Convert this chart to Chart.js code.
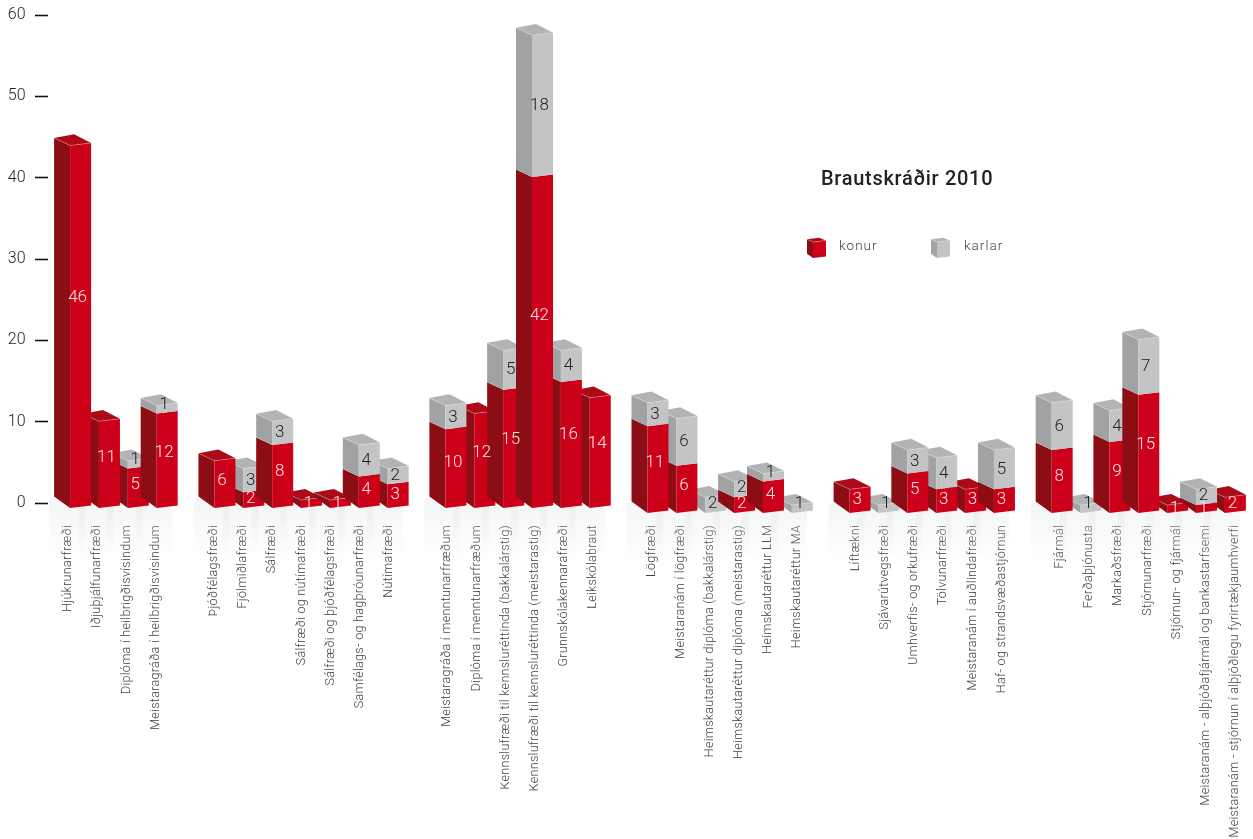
<!DOCTYPE html>
<html>
<head>
<meta charset="utf-8">
<title>Brautskráðir 2010</title>
<style>
  html, body { margin: 0; background: #fff; }
  canvas { display: block; }
</style>
<script src="https://cdn.jsdelivr.net/npm/chart.js@4"></script>
</head>
<body>
<canvas id="chart" width="1253" height="839"></canvas>
<script>
// empty strings are the gaps between the faculty groups
const categories = [
  `Hjúkrunarfræði`, `Iðjuþjálfunarfræði`, `Diplóma í heilbrigðisvísindum`, `Meistaragráða í heilbrigðisvísindum`, ``,
  `Þjóðfélagsfræði`, `Fjölmiðlafræði`, `Sálfræði`, `Sálfræði og nútímafræði`, `Sálfræði og þjóðfélagsfræði`, `Samfélags- og hagþróunarfræði`, `Nútímafræði`, ``,
  `Meistaragráða í menntunarfræðum`, `Diplóma í menntunarfræðum`, `Kennslufræði til kennsluréttinda (bakkalárstig)`, `Kennslufræði til kennsluréttinda (meistarastig)`, `Grunnskólakennarafræði`, `Leikskólabraut`, ``,
  `Lögfræði`, `Meistaranám í lögfræði`, `Heimskautaréttur diplóma (bakkalárstig)`, `Heimskautaréttur diplóma (meistarastig)`, `Heimskautaréttur LLM`, `Heimskautaréttur MA`, ``,
  `Líftækni`, `Sjávarútvegsfræði`, `Umhverfis- og orkufræði`, `Tölvunarfræði`, `Meistaranám í auðlindafræði`, `Haf- og strandsvæðastjórnun`, ``,
  `Fjármál`, `Ferðaþjónusta`, `Markaðsfræði`, `Stjórnunarfræði`, `Stjórnun- og fjármál`, `Meistaranám - alþjóðafjármál og bankastarfsemi`, `Meistaranám - stjórnun í alþjóðlegu fyrirtækjaumhverfi`
];
const konur = [
  46, 11, 5, 12, null,
  6, 2, 8, 1, 1, 4, 3, null,
  10, 12, 15, 42, 16, 14, null,
  11, 6, 0, 2, 4, 0, null,
  3, 0, 5, 3, 3, 3, null,
  8, 0, 9, 15, 1, 1, 2
];
const karlar = [
  0, 0, 1, 1, null,
  0, 3, 3, 0, 0, 4, 2, null,
  3, 0, 5, 18, 4, 0, null,
  3, 6, 2, 2, 1, 1, null,
  0, 1, 3, 4, 0, 5, null,
  6, 1, 4, 7, 0, 2, 0
];
const yTicks = [0, 10, 20, 30, 40, 50, 60];
const chartTitle = `Brautskráðir 2010`;
const seriesNames = [`konur`, `karlar`];

const RED = {front: `#cc0019`, side: `#8c0d14`, top: `#ad0a18`, text: `#f6e6e6`};
const GREY = {front: `#c3c4c6`, side: `#a1a2a4`, top: `#b2b3b5`, text: `#222222`};

const FRONT_W = 21;
const SIDE_W = 16;
const FONT = `Roboto, sans-serif`;

const polygon = (ctx, points, fill) => {
  ctx.beginPath();
  points.forEach(([x, y], i) => (i ? ctx.lineTo(x, y) : ctx.moveTo(x, y)));
  ctx.closePath();
  ctx.fillStyle = fill;
  ctx.fill();
};

// one block of a bar: side and front; yTop / yBottom are the front-left corners
const drawBlock = (ctx, fx, yTop, yBottom, color, isFloor, w = FRONT_W, sw = SIDE_W) => {
  const slope = w * 0.12;
  const topDy = sw * 0.47;
  const bottomDy = isFloor ? sw * 0.72 : sw * 0.48;
  polygon(ctx, [[fx - sw, yTop - topDy], [fx, yTop], [fx, yBottom], [fx - sw, yBottom - bottomDy]], color.side);
  polygon(ctx, [[fx, yTop], [fx + w, yTop - slope], [fx + w, yBottom - slope], [fx, yBottom]], color.front);
};

const drawTop = (ctx, fx, yTop, color, w = FRONT_W, sw = SIDE_W) => {
  const slope = w * 0.12;
  polygon(ctx, [
    [fx, yTop], [fx + w, yTop - slope],
    [fx + w - sw - 1, yTop - sw * 0.7], [fx - sw, yTop - sw * 0.47]
  ], color.top);
  // thin pale edge along the front corner
  ctx.strokeStyle = `rgba(255, 255, 255, 0.35)`;
  ctx.lineWidth = 0.7;
  ctx.beginPath();
  ctx.moveTo(fx - sw, yTop - sw * 0.47);
  ctx.lineTo(fx, yTop);
  ctx.lineTo(fx + w, yTop - slope);
  ctx.stroke();
};

// blocks right of Leikskólabraut sit a little lower on the page
const floorDrop = (index) => (index >= 20 ? 5 : 0);
// the rotated labels spread a bit wider than the blocks, so the blocks drift left of their tick
const frontLeft = (bar, index) => bar.x + 2 - 0.3 * index;

const cubePlugin = {
  id: `cubes`,
  beforeDraw(chart) {
    chart.ctx.letterSpacing = `0.3px`;
  },
  afterDatasetsDraw(chart) {
    const {ctx} = chart;
    const scale = chart.scales.yBars;
    const redBars = chart.getDatasetMeta(0).data;
    const greyBars = chart.getDatasetMeta(1).data;
    const zero = scale.getPixelForValue(0);

    ctx.save();
    ctx.letterSpacing = `0px`;

    // floor shine under the bars
    categories.forEach((name, i) => {
      if (!name) {
        return;
      }
      const fx = frontLeft(redBars[i], i);
      const drop = floorDrop(i);
      const gradient = ctx.createLinearGradient(0, zero + drop, 0, zero + drop + 50);
      gradient.addColorStop(0, `rgba(222, 226, 226, 0.3)`);
      gradient.addColorStop(1, `rgba(222, 226, 226, 0)`);
      ctx.fillStyle = gradient;
      ctx.fillRect(fx - 21, zero + drop - 10, 36, 62);
    });

    // painter's order: shorter bars first, the taller ones cover their neighbours
    const order = categories
      .map((name, i) => i)
      .filter((i) => categories[i])
      .sort((a, b) => (konur[a] + karlar[a]) - (konur[b] + karlar[b]) || a - b);

    order.forEach((i) => {
      const fx = frontLeft(redBars[i], i);
      const drop = floorDrop(i);
      const yRed = redBars[i].y + drop;
      const yGrey = greyBars[i].y + drop;
      if (konur[i]) {
        drawBlock(ctx, fx, yRed, zero + drop, RED, true);
      }
      if (karlar[i]) {
        drawBlock(ctx, fx, yGrey, yRed, GREY, !konur[i]);
        drawTop(ctx, fx, yGrey, GREY);
      } else {
        drawTop(ctx, fx, yRed, RED);
      }
    });

    // value labels
    ctx.font = `300 17px ${FONT}`;
    ctx.textAlign = `center`;
    ctx.textBaseline = `middle`;
    categories.forEach((name, i) => {
      if (!name) {
        return;
      }
      const cx = frontLeft(redBars[i], i) + FRONT_W / 2 - 3;
      const drop = floorDrop(i);
      const yRed = redBars[i].y + drop;
      const yGrey = greyBars[i].y + drop;
      if (konur[i]) {
        ctx.fillStyle = RED.text;
        ctx.fillText(konur[i], cx, zero + drop - (zero + drop - yRed) * 0.58);
      }
      if (karlar[i]) {
        ctx.fillStyle = GREY.text;
        ctx.fillText(karlar[i], cx, Math.min((yGrey + yRed) / 2, yRed - 9));
      }
    });

    // title and legend
    ctx.letterSpacing = `0.7px`;
    ctx.textAlign = `left`;
    ctx.fillStyle = `#222222`;
    ctx.font = `500 20px ${FONT}`;
    ctx.fillText(chartTitle, 821, 180);

    ctx.letterSpacing = `1px`;
    ctx.font = `300 13.5px ${FONT}`;
    [[813, 839, RED], [937, 964, GREY]].forEach(([fx, tx, color], s) => {
      drawBlock(ctx, fx, 242, 258, color, true, 13, 6);
      drawTop(ctx, fx, 242, color, 13, 6);
      ctx.fillStyle = `#444444`;
      ctx.fillText(seriesNames[s], tx, 247);
    });
    ctx.restore();
  }
};

new Chart(document.getElementById(`chart`), {
  type: `bar`,
  data: {
    labels: categories,
    datasets: [
      {label: seriesNames[0], data: konur, yAxisID: `yBars`, backgroundColor: `transparent`, barPercentage: 0.727, categoryPercentage: 1},
      {label: seriesNames[1], data: karlar, yAxisID: `yBars`, backgroundColor: `transparent`, barPercentage: 0.727, categoryPercentage: 1}
    ]
  },
  plugins: [cubePlugin],
  options: {
    responsive: false,
    animation: false,
    devicePixelRatio: 1,
    layout: {padding: {top: 15, right: 3.5, left: 0, bottom: 0}},
    plugins: {legend: {display: false}, tooltip: {enabled: false}},
    scales: {
      x: {
        stacked: true,
        grid: {display: false},
        border: {display: false},
        afterFit(scale) {
          scale.height = 336;
          // the rotated last label must not eat into the plot width
          scale.paddingLeft = 0;
          scale.paddingRight = 0;
        },
        ticks: {
          autoSkip: false,
          minRotation: 90,
          maxRotation: 90,
          padding: 14,
          color: `#3f3f3f`,
          font: {family: FONT, size: 12.5, weight: `300`}
        }
      },
      y: {
        min: 0,
        max: 60,
        afterFit(scale) {
          scale.width = 53.5;
          scale.paddingTop = 0;
          scale.paddingBottom = 0;
        },
        afterBuildTicks(scale) {
          scale.ticks = yTicks.map((value) => ({value}));
        },
        grid: {drawOnChartArea: false, tickLength: 18.5, tickWidth: 1.6, tickColor: `#111111`, tickBorderDash: [13, 20]},
        border: {display: false},
        ticks: {padding: 9, color: `#222222`, font: {family: FONT, size: 16, weight: `300`}}
      },
      // blocks use a slightly tighter scale than the printed axis, floor just under the 0 tick
      yBars: {
        display: false,
        stacked: true,
        min: 0.634,
        max: 62.56
      }
    }
  }
});
</script>
</body>
</html>
